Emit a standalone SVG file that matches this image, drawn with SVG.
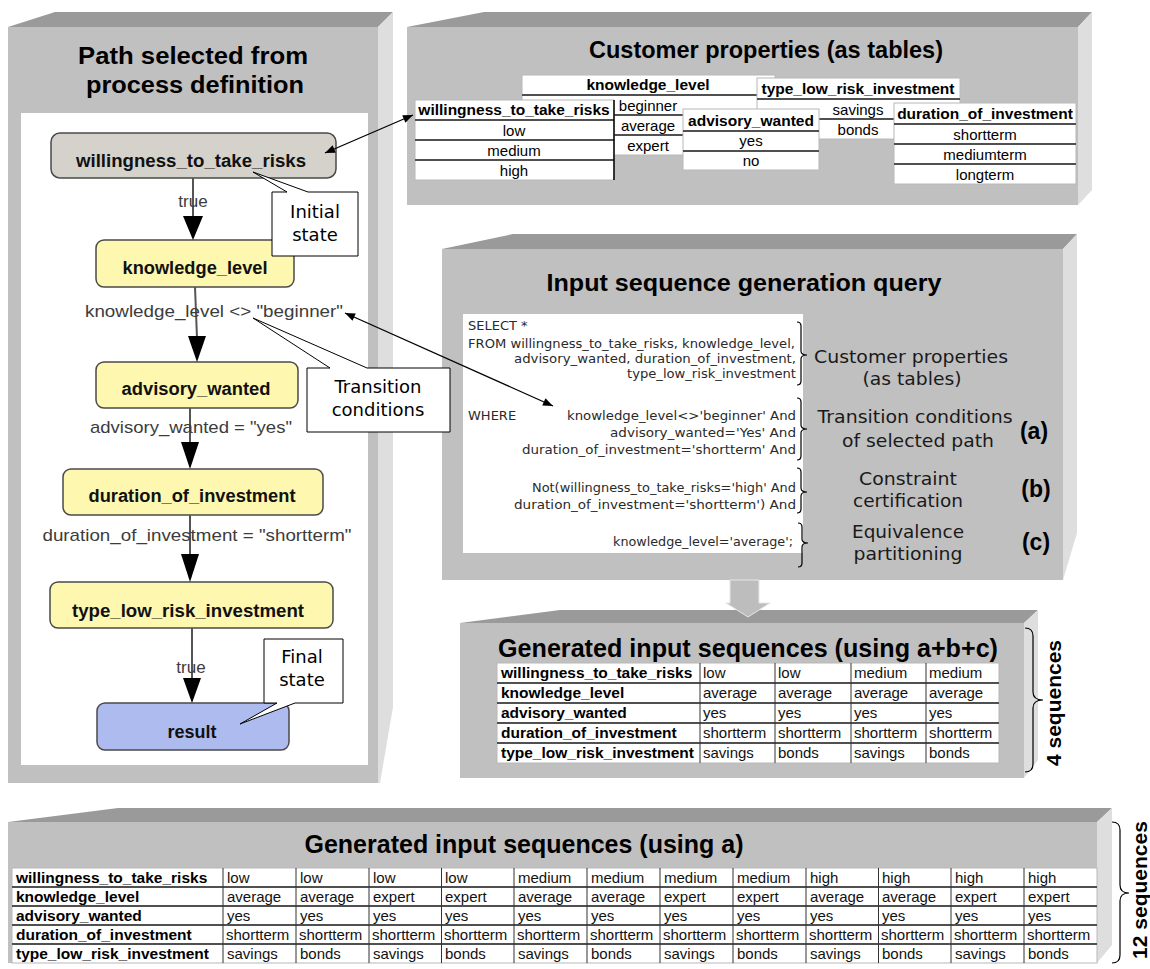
<svg xmlns="http://www.w3.org/2000/svg" width="1150" height="969" viewBox="0 0 1150 969">
<defs>
<style>
.top{fill:#9a9a9a}
.face{fill:#c0c0c0}
.side{fill:#dedede}
.ttl{font-family:"Liberation Sans",Arial,sans-serif;font-weight:bold;fill:#000;text-anchor:middle}
.node{stroke:#4a4a4a;stroke-width:1.5}
.nt{font-family:"Liberation Sans",Arial,sans-serif;font-weight:bold;font-size:18px;fill:#111;text-anchor:middle}
.el{font-family:"Liberation Sans",Arial,sans-serif;font-size:17px;fill:#3c3c3c;text-anchor:middle}
.flow{stroke:#555;stroke-width:2;fill:none}
.ah{fill:#000}
.callout{fill:#fff;stroke:#000;stroke-width:1}
.ct{font-family:"DejaVu Sans",Verdana,sans-serif;font-size:18px;fill:#000;text-anchor:middle}
.cell{fill:#fff;stroke:#b8b8b8;stroke-width:1}
.rl{stroke:#505050;stroke-width:2}
.vl{stroke:#333;stroke-width:1}
.th{font-family:"Liberation Sans",Arial,sans-serif;font-weight:bold;font-size:15.5px;fill:#000;text-anchor:middle}
.td{font-family:"Liberation Sans",Arial,sans-serif;font-size:15px;fill:#000;text-anchor:middle}
.thl{font-family:"Liberation Sans",Arial,sans-serif;font-weight:bold;font-size:15.5px;fill:#000}
.tdl{font-family:"Liberation Sans",Arial,sans-serif;font-size:15px;fill:#111}
.q{font-family:"DejaVu Sans",Verdana,sans-serif;font-size:13px;fill:#2a2a2a}
.ql{font-family:"DejaVu Sans",Verdana,sans-serif;font-size:18px;fill:#1a1a1a;text-anchor:middle}
.ab{font-family:"Liberation Sans",Arial,sans-serif;font-weight:bold;font-size:23px;fill:#000;text-anchor:middle}
.brace{fill:none;stroke:#000;stroke-width:1.2}
.dbl{stroke:#000;stroke-width:1.3;fill:none}
.fat{fill:#bdbdbd;stroke:#e6e6e6;stroke-width:1}
</style>
<marker id="mk" viewBox="0 0 10 8" refX="10" refY="4" markerWidth="11" markerHeight="8" markerUnits="userSpaceOnUse" orient="auto-start-reverse"><path d="M0,0 L10,4 L0,8 z" fill="#000"/></marker>
</defs>
<rect x="0" y="0" width="1150" height="969" fill="#fff"/>

<!-- Left panel -->
<g id="panel-path">
<polygon class="top" points="8,27 55,12 393,12 378,27"/>
<rect class="face" x="8" y="27" width="370" height="756"/>
<polygon class="side" points="378,27 393,12 393,707 380,783 378,783"/>
<text class="ttl" x="193" y="64" font-size="23" textLength="230" lengthAdjust="spacingAndGlyphs">Path selected from</text>
<text class="ttl" x="195" y="93" font-size="23" textLength="218" lengthAdjust="spacingAndGlyphs">process definition</text>
<rect x="21" y="113" width="347" height="652" fill="#fff"/>
</g>

<g id="node-willingness">
<rect class="node" x="51" y="133" width="285" height="45" rx="9" fill="#d5d1cb"/>
<text class="nt" x="191" y="167" textLength="230" lengthAdjust="spacingAndGlyphs">willingness_to_take_risks</text>
</g>
<g id="node-knowledge">
<rect class="node" x="96" y="240" width="198" height="47" rx="8" fill="#fdf7b0"/>
<text class="nt" x="195" y="274" textLength="145" lengthAdjust="spacingAndGlyphs">knowledge_level</text>
</g>
<g id="node-advisory">
<rect class="node" x="96" y="362" width="202" height="46" rx="8" fill="#fdf7b0"/>
<text class="nt" x="196" y="395" textLength="149" lengthAdjust="spacingAndGlyphs">advisory_wanted</text>
</g>
<g id="node-duration">
<rect class="node" x="63" y="469" width="260" height="46" rx="8" fill="#fdf7b0"/>
<text class="nt" x="192" y="502" textLength="207" lengthAdjust="spacingAndGlyphs">duration_of_investment</text>
</g>
<g id="node-type">
<rect class="node" x="50" y="582" width="283" height="46" rx="8" fill="#fdf7b0"/>
<text class="nt" x="188" y="617" textLength="232" lengthAdjust="spacingAndGlyphs">type_low_risk_investment</text>
</g>
<g id="node-result">
<rect class="node" x="97" y="703" width="192" height="47" rx="8" fill="#aebbee"/>
<text class="nt" x="192" y="738" textLength="49" lengthAdjust="spacingAndGlyphs">result</text>
</g>

<!-- Customer properties panel -->
<g id="panel-customer">
<polygon class="top" points="407,27 484,12 1092,12 1078,27"/>
<rect class="face" x="407" y="27" width="671" height="178"/>
<polygon class="side" points="1078,27 1092,12 1092,190 1078,205"/>
<text class="ttl" x="766" y="58" font-size="24" textLength="354" lengthAdjust="spacingAndGlyphs">Customer properties (as tables)</text>
</g>
<g id="table-knowledge">
<rect class="cell" x="522" y="75" width="253" height="80"/>
<line class="rl" x1="522" y1="95" x2="775" y2="95"/>
<line class="rl" x1="522" y1="115" x2="775" y2="115"/>
<line class="rl" x1="522" y1="135" x2="775" y2="135"/>
<text class="th" x="648" y="90">knowledge_level</text>
<text class="td" x="648" y="111">beginner</text>
<text class="td" x="648" y="131">average</text>
<text class="td" x="648" y="151">expert</text>
</g>
<g id="table-type">
<rect class="cell" x="757" y="78" width="203" height="61"/>
<line class="rl" x1="757" y1="99" x2="960" y2="99"/>
<line class="rl" x1="757" y1="119" x2="960" y2="119"/>
<text class="th" x="858" y="94">type_low_risk_investment</text>
<text class="td" x="858" y="115">savings</text>
<text class="td" x="858" y="135">bonds</text>
</g>
<g id="table-willingness">
<rect class="cell" x="415" y="100" width="199" height="80"/>
<line class="rl" x1="415" y1="120" x2="614" y2="120"/>
<line class="rl" x1="415" y1="140" x2="614" y2="140"/>
<line class="rl" x1="415" y1="160" x2="614" y2="160"/>
<line x1="614" y1="100" x2="614" y2="180" stroke="#000" stroke-width="1.5"/>
<text class="th" x="514" y="115">willingness_to_take_risks</text>
<text class="td" x="514" y="136">low</text>
<text class="td" x="514" y="156">medium</text>
<text class="td" x="514" y="176">high</text>
</g>
<g id="table-advisory">
<rect class="cell" x="683" y="109" width="136" height="61"/>
<line class="rl" x1="683" y1="131" x2="819" y2="131"/>
<line class="rl" x1="683" y1="151" x2="819" y2="151"/>
<text class="th" x="751" y="126">advisory_wanted</text>
<text class="td" x="751" y="146">yes</text>
<text class="td" x="751" y="166">no</text>
</g>
<g id="table-duration">
<rect class="cell" x="894" y="103" width="182" height="81"/>
<line class="rl" x1="894" y1="124" x2="1076" y2="124"/>
<line class="rl" x1="894" y1="144" x2="1076" y2="144"/>
<line class="rl" x1="894" y1="164" x2="1076" y2="164"/>
<text class="th" x="985" y="119">duration_of_investment</text>
<text class="td" x="985" y="140">shortterm</text>
<text class="td" x="985" y="160">mediumterm</text>
<text class="td" x="985" y="180">longterm</text>
</g>

<!-- Query panel -->
<g id="panel-query">
<polygon class="top" points="442,249 513,234 1077,234 1063,249"/>
<rect class="face" x="442" y="249" width="621" height="331"/>
<polygon class="side" points="1063,249 1077,234 1077,533 1063,580"/>
<text class="ttl" x="744" y="291" font-size="23" textLength="395" lengthAdjust="spacingAndGlyphs">Input sequence generation query</text>
<rect x="463" y="314" width="340" height="239" fill="#fff"/>
<text class="q" x="468" y="330">SELECT *</text>
<text class="q" x="468" y="348" textLength="327" lengthAdjust="spacingAndGlyphs">FROM willingness_to_take_risks, knowledge_level,</text>
<text class="q" x="514" y="363" textLength="282" lengthAdjust="spacingAndGlyphs">advisory_wanted, duration_of_investment,</text>
<text class="q" x="627" y="378" textLength="169" lengthAdjust="spacingAndGlyphs">type_low_risk_investment</text>
<text class="q" x="468" y="420">WHERE</text>
<text class="q" x="567" y="420" textLength="229" lengthAdjust="spacingAndGlyphs">knowledge_level&lt;&gt;'beginner' And</text>
<text class="q" x="610" y="437" textLength="186" lengthAdjust="spacingAndGlyphs">advisory_wanted='Yes' And</text>
<text class="q" x="522" y="454" textLength="274" lengthAdjust="spacingAndGlyphs">duration_of_investment='shortterm' And</text>
<text class="q" x="532" y="492" textLength="264" lengthAdjust="spacingAndGlyphs">Not(willingness_to_take_risks='high' And</text>
<text class="q" x="514" y="509" textLength="282" lengthAdjust="spacingAndGlyphs">duration_of_investment='shortterm') And</text>
<text class="q" x="613" y="546" textLength="180" lengthAdjust="spacingAndGlyphs">knowledge_level='average';</text>
<path class="brace" d="M797,322 Q801,322 801,326 L801,351 Q801,355 807,355 Q801,355 801,359 L801,381 Q801,385 797,385"/>
<path class="brace" d="M797,398 Q801,398 801,402 L801,425 Q801,429 807,429 Q801,429 801,433 L801,456 Q801,460 797,460"/>
<path class="brace" d="M797,468 Q801,468 801,472 L801,488 Q801,492 807,492 Q801,492 801,496 L801,509 Q801,513 797,513"/>
<path class="brace" d="M798,523 Q802,523 802,527 L802,539 Q802,543 808,543 Q802,543 802,547 L802,563 Q802,567 798,567"/>
<text class="ql" x="911" y="363" textLength="194" lengthAdjust="spacingAndGlyphs">Customer properties</text>
<text class="ql" x="912" y="385" textLength="99" lengthAdjust="spacingAndGlyphs">(as tables)</text>
<text class="ql" x="915" y="423" textLength="195" lengthAdjust="spacingAndGlyphs">Transition conditions</text>
<text class="ql" x="918" y="447" textLength="152" lengthAdjust="spacingAndGlyphs">of selected path</text>
<text class="ql" x="908" y="485" textLength="98" lengthAdjust="spacingAndGlyphs">Constraint</text>
<text class="ql" x="908" y="507" textLength="110" lengthAdjust="spacingAndGlyphs">certification</text>
<text class="ql" x="908" y="538" textLength="112" lengthAdjust="spacingAndGlyphs">Equivalence</text>
<text class="ql" x="908" y="560" textLength="109" lengthAdjust="spacingAndGlyphs">partitioning</text>
<text class="ab" x="1034" y="439">(a)</text>
<text class="ab" x="1036" y="497">(b)</text>
<text class="ab" x="1036" y="550">(c)</text>
</g>

<!-- Generated input sequences (a+b+c) -->
<g id="panel-seq4">
<polygon class="top" points="460,623 560,610 1038,610 1024,623"/>
<rect class="face" x="460" y="623" width="564" height="155"/>
<polygon class="side" points="1024,623 1038,610 1038,760 1024,778"/>
<text class="ttl" x="748" y="657" font-size="25" textLength="500" lengthAdjust="spacingAndGlyphs">Generated input sequences (using a+b+c)</text>
<rect class="cell" x="497" y="663" width="502" height="100"/>
<line class="rl" x1="497" y1="683" x2="999" y2="683"/>
<line class="rl" x1="497" y1="703" x2="999" y2="703"/>
<line class="rl" x1="497" y1="723" x2="999" y2="723"/>
<line class="rl" x1="497" y1="743" x2="999" y2="743"/>
<line class="vl" x1="700" y1="663" x2="700" y2="763"/>
<line class="vl" x1="775" y1="663" x2="775" y2="763"/>
<line class="vl" x1="851" y1="663" x2="851" y2="763"/>
<line class="vl" x1="926" y1="663" x2="926" y2="763"/>
<text class="thl" x="501" y="678">willingness_to_take_risks</text>
<text class="thl" x="501" y="698">knowledge_level</text>
<text class="thl" x="501" y="718">advisory_wanted</text>
<text class="thl" x="501" y="738">duration_of_investment</text>
<text class="thl" x="501" y="758">type_low_risk_investment</text>
<text class="tdl" x="703" y="678">low</text><text class="tdl" x="778" y="678">low</text><text class="tdl" x="854" y="678">medium</text><text class="tdl" x="929" y="678">medium</text>
<text class="tdl" x="703" y="698">average</text><text class="tdl" x="778" y="698">average</text><text class="tdl" x="854" y="698">average</text><text class="tdl" x="929" y="698">average</text>
<text class="tdl" x="703" y="718">yes</text><text class="tdl" x="778" y="718">yes</text><text class="tdl" x="854" y="718">yes</text><text class="tdl" x="929" y="718">yes</text>
<text class="tdl" x="703" y="738">shortterm</text><text class="tdl" x="778" y="738">shortterm</text><text class="tdl" x="854" y="738">shortterm</text><text class="tdl" x="929" y="738">shortterm</text>
<text class="tdl" x="703" y="758">savings</text><text class="tdl" x="778" y="758">bonds</text><text class="tdl" x="854" y="758">savings</text><text class="tdl" x="929" y="758">bonds</text>
</g>
<g id="brace-4">
<path class="brace" d="M1025,628 Q1033,628 1033,636 L1033,692 Q1033,700 1043,700 Q1033,700 1033,708 L1033,764 Q1033,772 1025,772"/>
<text class="ttl" transform="translate(1061,703) rotate(-90)" font-size="21">4 sequences</text>
</g>

<!-- Generated input sequences (a) -->
<g id="panel-seq12">
<polygon class="top" points="8,822 118,808 1112,808 1097,822"/>
<rect class="face" x="8" y="822" width="1089" height="141"/>
<polygon class="side" points="1097,822 1112,808 1112,945 1097,963"/>
<text class="ttl" x="524" y="853" font-size="25">Generated input sequences (using a)</text>
<rect class="cell" x="12" y="868" width="1085" height="95"/>
<line class="rl" x1="12" y1="887" x2="1097" y2="887"/>
<line class="rl" x1="12" y1="906" x2="1097" y2="906"/>
<line class="rl" x1="12" y1="925" x2="1097" y2="925"/>
<line class="rl" x1="12" y1="944" x2="1097" y2="944"/>
<g class="vl">
<line x1="223" y1="868" x2="223" y2="963"/><line x1="296" y1="868" x2="296" y2="963"/><line x1="369" y1="868" x2="369" y2="963"/><line x1="441.5" y1="868" x2="441.5" y2="963"/><line x1="514" y1="868" x2="514" y2="963"/><line x1="587" y1="868" x2="587" y2="963"/><line x1="660" y1="868" x2="660" y2="963"/><line x1="733" y1="868" x2="733" y2="963"/><line x1="806" y1="868" x2="806" y2="963"/><line x1="878.5" y1="868" x2="878.5" y2="963"/><line x1="951" y1="868" x2="951" y2="963"/><line x1="1024" y1="868" x2="1024" y2="963"/>
</g>
<text class="thl" x="16" y="883">willingness_to_take_risks</text>
<text class="thl" x="16" y="902">knowledge_level</text>
<text class="thl" x="16" y="921">advisory_wanted</text>
<text class="thl" x="16" y="940">duration_of_investment</text>
<text class="thl" x="16" y="959">type_low_risk_investment</text>
<text class="tdl" x="227" y="883">low</text><text class="tdl" x="300" y="883">low</text><text class="tdl" x="373" y="883">low</text><text class="tdl" x="445" y="883">low</text><text class="tdl" x="518" y="883">medium</text><text class="tdl" x="591" y="883">medium</text><text class="tdl" x="664" y="883">medium</text><text class="tdl" x="737" y="883">medium</text><text class="tdl" x="810" y="883">high</text><text class="tdl" x="882" y="883">high</text><text class="tdl" x="955" y="883">high</text><text class="tdl" x="1028" y="883">high</text>
<text class="tdl" x="227" y="902">average</text><text class="tdl" x="300" y="902">average</text><text class="tdl" x="373" y="902">expert</text><text class="tdl" x="445" y="902">expert</text><text class="tdl" x="518" y="902">average</text><text class="tdl" x="591" y="902">average</text><text class="tdl" x="664" y="902">expert</text><text class="tdl" x="737" y="902">expert</text><text class="tdl" x="810" y="902">average</text><text class="tdl" x="882" y="902">average</text><text class="tdl" x="955" y="902">expert</text><text class="tdl" x="1028" y="902">expert</text>
<text class="tdl" x="227" y="921">yes</text><text class="tdl" x="300" y="921">yes</text><text class="tdl" x="373" y="921">yes</text><text class="tdl" x="445" y="921">yes</text><text class="tdl" x="518" y="921">yes</text><text class="tdl" x="591" y="921">yes</text><text class="tdl" x="664" y="921">yes</text><text class="tdl" x="737" y="921">yes</text><text class="tdl" x="810" y="921">yes</text><text class="tdl" x="882" y="921">yes</text><text class="tdl" x="955" y="921">yes</text><text class="tdl" x="1028" y="921">yes</text>
<text class="tdl" x="226" y="940">shortterm</text><text class="tdl" x="299" y="940">shortterm</text><text class="tdl" x="372" y="940">shortterm</text><text class="tdl" x="444" y="940">shortterm</text><text class="tdl" x="517" y="940">shortterm</text><text class="tdl" x="590" y="940">shortterm</text><text class="tdl" x="663" y="940">shortterm</text><text class="tdl" x="736" y="940">shortterm</text><text class="tdl" x="809" y="940">shortterm</text><text class="tdl" x="881" y="940">shortterm</text><text class="tdl" x="954" y="940">shortterm</text><text class="tdl" x="1027" y="940">shortterm</text>
<text class="tdl" x="227" y="959">savings</text><text class="tdl" x="300" y="959">bonds</text><text class="tdl" x="373" y="959">savings</text><text class="tdl" x="445" y="959">bonds</text><text class="tdl" x="518" y="959">savings</text><text class="tdl" x="591" y="959">bonds</text><text class="tdl" x="664" y="959">savings</text><text class="tdl" x="737" y="959">bonds</text><text class="tdl" x="810" y="959">savings</text><text class="tdl" x="882" y="959">bonds</text><text class="tdl" x="955" y="959">savings</text><text class="tdl" x="1028" y="959">bonds</text>
</g>
<g id="brace-12">
<path class="brace" d="M1112,822 Q1120,822 1120,830 L1120,885 Q1120,893 1129,893 Q1120,893 1120,901 L1120,955 Q1120,963 1112,963"/>
<text class="ttl" transform="translate(1147,890) rotate(-90)" font-size="21">12 sequences</text>
</g>

<!-- Callouts -->
<g id="callout-initial">
<path class="callout" d="M272,192 H287 L253,172 L308,192 H358 V256 H272 Z"/>
<text class="ct" x="315" y="218">Initial</text>
<text class="ct" x="315" y="241">state</text>
</g>
<g id="callout-transition">
<path class="callout" d="M307,368 H330 L253,318 L367,368 H450 V432 H307 Z"/>
<text class="ct" x="378" y="393">Transition</text>
<text class="ct" x="378" y="416">conditions</text>
</g>
<g id="callout-final">
<path class="callout" d="M264,639 H343 V703 H295 L240,724 L277,703 H264 Z"/>
<text class="ct" x="302" y="663">Final</text>
<text class="ct" x="302" y="686">state</text>
</g>

<!-- Connectors -->
<g id="connectors">
<line class="flow" x1="193" y1="178" x2="193" y2="218"/>
<polygon class="ah" points="183,216 203,216 193,240"/>
<text class="el" x="193" y="207">true</text>
<line class="flow" x1="195" y1="287" x2="197" y2="338"/>
<polygon class="ah" points="188,336 206,336 197,362"/>
<text class="el" x="214" y="317" textLength="258" lengthAdjust="spacingAndGlyphs">knowledge_level &lt;&gt; "beginner"</text>
<line class="flow" x1="190" y1="408" x2="190" y2="444"/>
<polygon class="ah" points="181,442 199,442 190,469"/>
<text class="el" x="191" y="433" textLength="202" lengthAdjust="spacingAndGlyphs">advisory_wanted = "yes"</text>
<line class="flow" x1="190" y1="515" x2="190" y2="556"/>
<polygon class="ah" points="181,554 199,554 190,582"/>
<text class="el" x="197" y="541" textLength="309" lengthAdjust="spacingAndGlyphs">duration_of_investment = "shortterm"</text>
<line class="flow" x1="192" y1="628" x2="192" y2="680"/>
<polygon class="ah" points="183,678 201,678 192,703"/>
<text class="el" x="191" y="673">true</text>
<line class="dbl" x1="325" y1="153" x2="413" y2="115" marker-start="url(#mk)" marker-end="url(#mk)"/>
<line class="dbl" x1="345" y1="313" x2="553" y2="406" marker-start="url(#mk)" marker-end="url(#mk)"/>
<polygon class="fat" points="730,580 759,580 759,603 770,603 748,617 726,603 730,603"/>
</g>
</svg>
